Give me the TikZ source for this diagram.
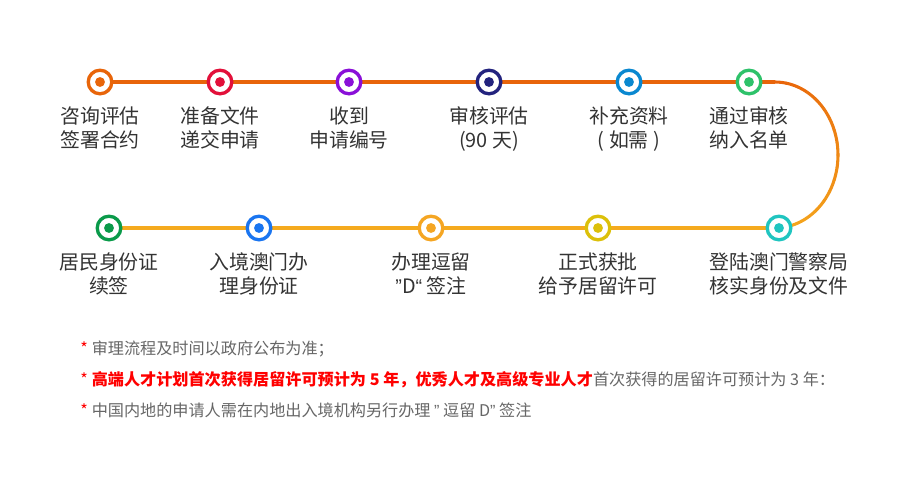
\documentclass[tikz,border=0pt]{standalone}
\usepackage{fontspec}
\setmainfont{Noto Sans CJK SC}
\newfontfamily\quotefont{Liberation Sans}
\usetikzlibrary{positioning,backgrounds}
\definecolor{orangeline}{RGB}{232,100,10}
\definecolor{yellowline}{RGB}{245,170,30}
\definecolor{textgray}{RGB}{51,51,51}
\definecolor{notegray}{RGB}{102,102,102}
\definecolor{notered}{RGB}{255,0,0}
\definecolor{cA}{RGB}{232,101,10}
\definecolor{cB}{RGB}{226,16,58}
\definecolor{cC}{RGB}{138,16,216}
\definecolor{cD}{RGB}{35,35,126}
\definecolor{cE}{RGB}{10,136,208}
\definecolor{cF}{RGB}{46,194,106}
\definecolor{cG}{RGB}{32,197,192}
\definecolor{cH}{RGB}{220,192,10}
\definecolor{cI}{RGB}{245,166,35}
\definecolor{cJ}{RGB}{26,117,240}
\definecolor{cK}{RGB}{10,154,74}

\tikzset{
	station/.style={circle,draw=#1,line width=2.5pt,fill=white,minimum size=17.7pt,inner sep=0pt,
		path picture={\fill[#1] (path picture bounding box.center) circle (3.7pt);}},
	steplabel/.style={inner sep=0pt,align=center,text=textgray,font=\fontsize{14.9}{18}\selectfont},
	topline/.style={orangeline,line width=2.3pt},
	botline/.style={yellowline,line width=2.3pt},
	note/.style={anchor=west,inner sep=0pt,text=notegray,font=\fontsize{12.1}{14}\selectfont}
}

\begin{document}
\begin{tikzpicture}[x=0.75pt,y=0.75pt,yscale=-1,xscale=1]
			\useasboundingbox (0,0) rectangle (900,500);
			
			% top row
			\node[station=cA] (s1) at (100,82) {};
			\node[station=cB] (s2) at (220,82) {};
			\node[station=cC] (s3) at (349,82) {};
			\node[station=cD] (s4) at (489,82) {};
			\node[station=cE] (s5) at (629,82) {};
			\node[station=cF] (s6) at (749,82) {};
			% bottom row
			\node[station=cG] (s7) at (779,228) {};
			\node[station=cH] (s8) at (598,228) {};
			\node[station=cI] (s9) at (431,228) {};
			\node[station=cJ] (s10) at (259,228) {};
			\node[station=cK] (s11) at (109,228) {};
			
			\begin{scope}[on background layer]
			\draw[topline] (s1) -- (s2) -- (s3) -- (s4) -- (s5) -- (s6);
			\coordinate (bend) at (775,82);
			\draw[topline] (s6) -- (bend);
			\foreach \i in {0,...,17}{
				\pgfmathtruncatemacro\p{100-\i*100/17}
				\draw[line width=2.3pt,line cap=round,color=orangeline!\p!yellowline]
					plot[domain={90-10*\i}:{80-10*\i},samples=4,smooth] ({775+63*cos(\x)},{155-73*sin(\x)});
			}
			\draw[botline] (s7) -- (s8) -- (s9) -- (s10) -- (s11);
			\end{scope}
			
			\node[steplabel,below=8pt of s1] (l1) {咨询评估\\签署合约};
			\node[steplabel,below=8pt of s2] (l2) {准备文件\\递交申请};
			\node[steplabel,below=8pt of s3] (l3) {收到\\申请编号};
			\node[steplabel,below=8pt of s4] (l4) {审核评估\\(90 天)};
			\node[steplabel,below=8pt of s5] (l5) {补充资料\\( 如需 )};
			\node[steplabel,below=8pt of s6] (l6) {通过审核\\纳入名单};
			\node[steplabel,below=8pt of s7] (l7) {登陆澳门警察局\\核实身份及文件};
			\node[steplabel,below=8pt of s8] (l8) {正式获批\\给予居留许可};
			\node[steplabel,below=8pt of s9] (l9) {办理逗留\\{\quotefont ”}D{\quotefont “} 签注};
			\node[steplabel,below=8pt of s10] (l10) {入境澳门办\\理身份证};
			\node[steplabel,below=8pt of s11] (l11) {居民身份证\\续签};
			
			% notes
			\node[note] (n1) at (80,349) {\textcolor{notered}{*}\hspace{3pt}审理流程及时间以政府公布为准；};
			\node[note] (n2) at (80,380) {\textcolor{notered}{*\hspace{3pt}\bfseries 高端人才计划首次获得居留许可预计为 5 年，优秀人才及高级专业人才}首次获得的居留许可预计为 3 年：};
			\node[note] (n3) at (80,410) {\textcolor{notered}{*}\hspace{3pt}中国内地的申请人需在内地出入境机构另行办理 {\quotefont ”} 逗留 D{\quotefont ”} 签注};
\end{tikzpicture}
\end{document}
